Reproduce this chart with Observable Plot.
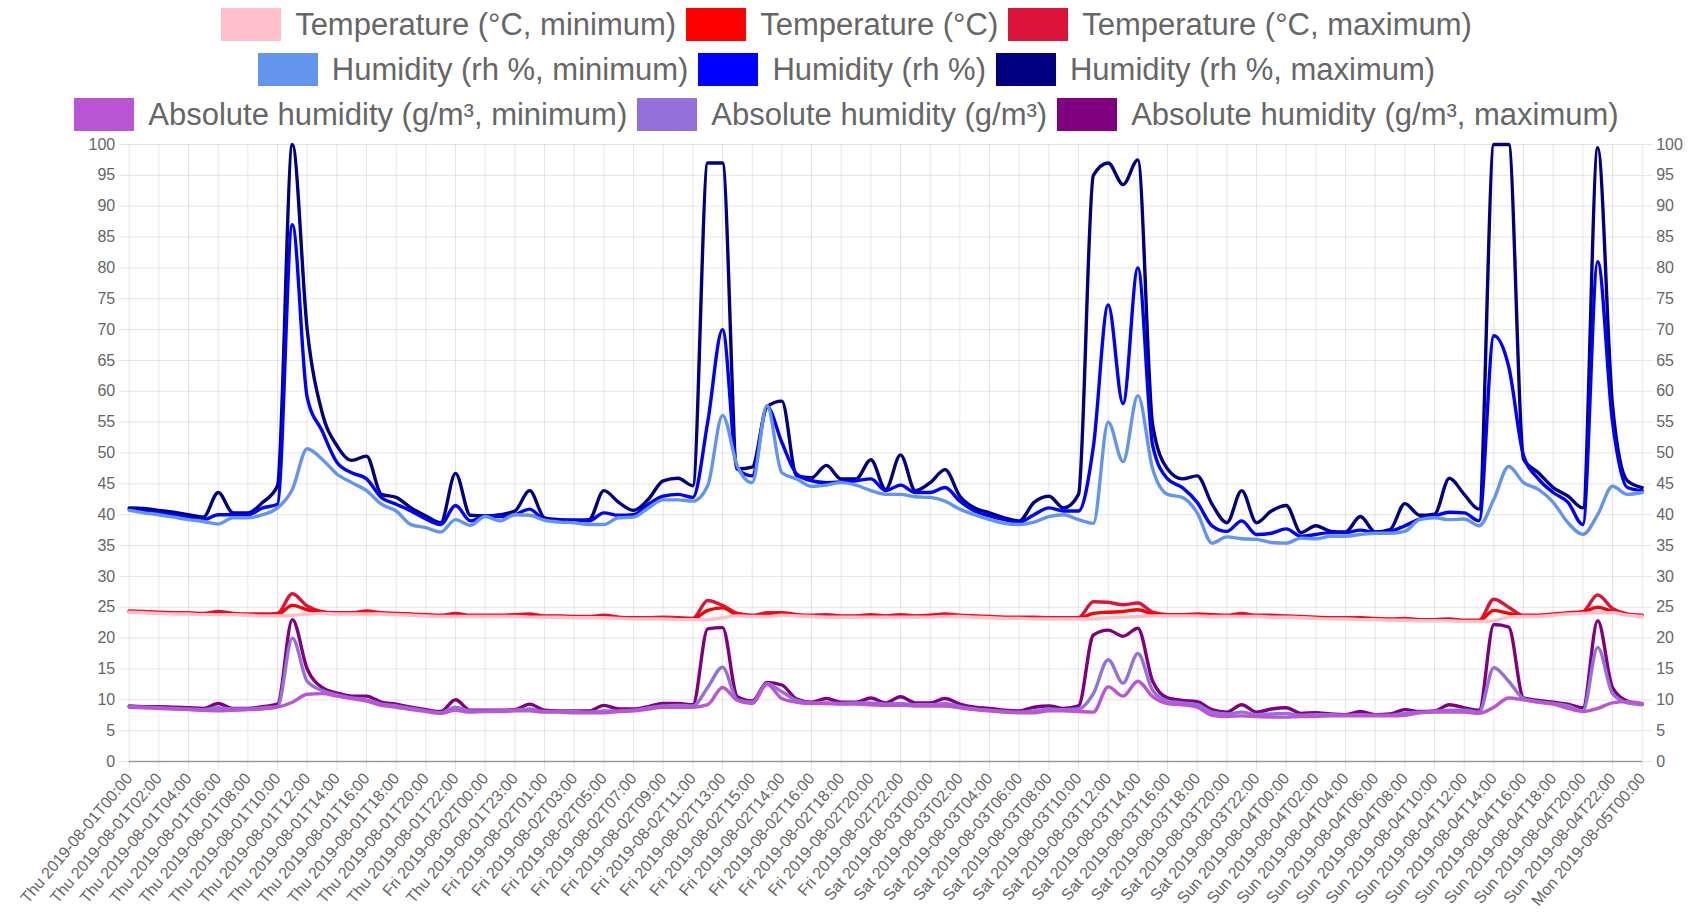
<!DOCTYPE html>
<html><head><meta charset="utf-8">
<script src="https://cdn.jsdelivr.net/npm/d3@7"></script>
<script src="https://cdn.jsdelivr.net/npm/@observablehq/plot@0.6"></script>
<style>
body{margin:0;background:#fff;font-family:"Liberation Sans",Arial,Helvetica,sans-serif;}
#legend{height:136px;padding-top:2px;box-sizing:border-box;}
.row{display:flex;justify-content:center;align-items:center;height:45px;}
.item{display:flex;align-items:center;margin:0 5px;}
.box{width:58px;height:31px;border:1.5px solid;margin-right:14px;box-sizing:content-box}
.lab{font-size:31px;color:#666;white-space:nowrap;line-height:34px}
#chart svg{display:block}
</style></head><body>
<div id="legend"></div><div id="chart"></div>
<script>
const seriesNames = [
  "Temperature (°C, minimum)", "Temperature (°C)", "Temperature (°C, maximum)",
  "Humidity (rh %, minimum)", "Humidity (rh %)", "Humidity (rh %, maximum)",
  "Absolute humidity (g/m³, minimum)", "Absolute humidity (g/m³)", "Absolute humidity (g/m³, maximum)"
];
const seriesColors = ["pink", "red", "crimson", "cornflowerblue", "blue", "navy", "mediumorchid", "mediumpurple", "purple"];

const tickLabels = [
  "Thu 2019-08-01T00:00","Thu 2019-08-01T02:00","Thu 2019-08-01T04:00","Thu 2019-08-01T06:00",
  "Thu 2019-08-01T08:00","Thu 2019-08-01T10:00","Thu 2019-08-01T12:00","Thu 2019-08-01T14:00",
  "Thu 2019-08-01T16:00","Thu 2019-08-01T18:00","Thu 2019-08-01T20:00","Thu 2019-08-01T22:00",
  "Fri 2019-08-02T00:00","Thu 2019-08-01T23:00","Fri 2019-08-02T01:00","Fri 2019-08-02T03:00",
  "Fri 2019-08-02T05:00","Fri 2019-08-02T07:00","Fri 2019-08-02T09:00","Fri 2019-08-02T11:00",
  "Fri 2019-08-02T13:00","Fri 2019-08-02T15:00","Fri 2019-08-02T14:00","Fri 2019-08-02T16:00",
  "Fri 2019-08-02T18:00","Fri 2019-08-02T20:00","Fri 2019-08-02T22:00",
  "Sat 2019-08-03T00:00","Sat 2019-08-03T02:00","Sat 2019-08-03T04:00","Sat 2019-08-03T06:00",
  "Sat 2019-08-03T08:00","Sat 2019-08-03T10:00","Sat 2019-08-03T12:00","Sat 2019-08-03T14:00",
  "Sat 2019-08-03T16:00","Sat 2019-08-03T18:00","Sat 2019-08-03T20:00","Sat 2019-08-03T22:00",
  "Sun 2019-08-04T00:00","Sun 2019-08-04T02:00","Sun 2019-08-04T04:00","Sun 2019-08-04T06:00",
  "Sun 2019-08-04T08:00","Sun 2019-08-04T10:00","Sun 2019-08-04T12:00","Sun 2019-08-04T14:00",
  "Sun 2019-08-04T16:00","Sun 2019-08-04T18:00","Sun 2019-08-04T20:00","Sun 2019-08-04T22:00",
  "Mon 2019-08-05T00:00"
];
const yTicks = [0,5,10,15,20,25,30,35,40,45,50,55,60,65,70,75,80,85,90,95,100];

// one reading every hour-slot (two slots per labelled tick)
const tempMin = [
  24.2,24.1,24.0,23.9,23.9,23.8,23.8,23.8,23.7,23.6,
  23.6,23.7,23.9,24.0,23.9,23.9,23.9,23.9,23.8,23.7,
  23.6,23.5,23.5,23.5,23.5,23.5,23.5,23.4,23.4,23.4,
  23.3,23.3,23.3,23.2,23.1,23.1,23.1,23.0,23.0,23.0,
  23.3,23.6,23.5,23.5,23.7,23.6,23.5,23.4,23.4,23.4,
  23.4,23.4,23.4,23.4,23.4,23.5,23.5,23.4,23.3,23.2,
  23.2,23.1,23.1,23.1,23.1,23.1,23.3,23.4,23.5,23.6,
  23.6,23.6,23.6,23.5,23.5,23.5,23.5,23.4,23.4,23.3,
  23.2,23.1,23.1,23.0,23.0,22.9,22.9,22.8,22.8,22.8,
  22.7,22.7,22.8,23.4,23.5,23.5,23.7,23.9,24.0,24.1,
  24.1,23.7,23.5];
const temp = [
  24.3,24.2,24.1,24.0,24.0,23.9,24.0,23.9,23.8,23.7,
  23.8,25.3,24.6,24.2,24.0,24.0,24.2,24.0,23.9,23.8,
  23.7,23.6,23.8,23.6,23.6,23.6,23.7,23.6,23.5,23.5,
  23.4,23.4,23.5,23.3,23.2,23.2,23.2,23.1,23.1,24.5,
  24.9,23.8,23.6,23.8,24.0,23.7,23.6,23.5,23.5,23.5,
  23.6,23.5,23.6,23.5,23.6,23.7,23.6,23.5,23.4,23.3,
  23.3,23.2,23.2,23.2,23.2,24.0,24.2,24.3,24.6,23.9,
  23.7,23.7,23.8,23.7,23.6,23.8,23.6,23.5,23.5,23.4,
  23.3,23.2,23.2,23.1,23.1,23.0,23.0,22.9,22.9,22.9,
  22.8,22.8,24.5,24.0,23.6,23.6,23.8,24.0,24.2,25.0,
  24.3,23.8,23.6];
const tempMax = [
  24.4,24.3,24.2,24.1,24.1,24.0,24.3,24.0,23.9,23.9,
  24.0,27.2,25.2,24.3,24.1,24.1,24.4,24.1,24.0,23.9,
  23.8,23.7,24.0,23.7,23.7,23.7,23.8,23.9,23.6,23.6,
  23.5,23.5,23.7,23.4,23.3,23.3,23.4,23.3,23.2,26.1,
  25.3,24.0,23.7,24.1,24.1,23.8,23.7,23.8,23.6,23.6,
  23.8,23.6,23.8,23.6,23.7,23.9,23.7,23.6,23.5,23.4,
  23.4,23.4,23.3,23.3,23.3,25.9,25.8,25.4,25.7,24.2,
  23.8,23.8,23.9,23.8,23.7,24.0,23.7,23.7,23.6,23.5,
  23.4,23.3,23.3,23.3,23.2,23.1,23.2,23.0,23.0,23.1,
  22.9,22.9,26.3,25.0,23.7,23.7,23.9,24.1,24.3,27.0,
  24.8,23.9,23.7];
const humMin = [
  40.7,40.3,40.0,39.6,39.2,38.9,38.5,39.5,39.5,40.0,
  41.1,44.1,50.7,49.0,46.6,45.2,43.9,41.7,40.6,38.4,
  37.9,37.2,39.2,38.3,39.7,39.0,40.0,39.9,39.1,38.8,
  38.7,38.4,38.4,39.5,39.6,41.1,42.4,42.4,42.2,44.7,
  56.1,47.9,45.2,57.7,46.8,45.8,44.6,44.8,45.2,44.8,
  43.9,43.3,43.3,42.9,42.8,42.2,40.9,40.0,39.2,38.6,
  38.4,38.8,39.7,40.0,39.2,38.6,55.0,48.6,59.3,47.4,
  43.3,42.8,40.3,35.4,36.4,36.1,36.0,35.5,35.4,36.2,
  36.1,36.5,36.5,36.8,37.0,37.0,37.3,39.2,39.5,39.2,
  39.3,38.2,42.5,47.8,45.2,44.1,42.0,38.7,36.8,40.0,
  44.6,43.3,43.6];
const hum = [
  40.9,40.6,40.3,40.0,39.5,39.2,40.0,40.0,40.0,41.1,
  41.7,87.0,59.0,53.6,48.5,46.8,45.8,42.8,41.7,40.6,
  39.3,38.4,41.5,39.0,39.8,39.7,40.0,40.9,39.2,39.1,
  39.1,39.0,40.3,39.9,40.0,41.7,43.0,43.3,42.8,55.0,
  70.0,47.4,46.3,57.5,51.7,46.6,45.5,45.2,45.3,45.5,
  45.8,43.9,44.8,43.6,43.6,44.4,42.2,40.6,39.8,39.2,
  38.8,40.0,41.1,40.6,40.6,51.0,74.0,58.0,80.0,51.2,
  45.8,44.4,42.0,38.2,37.3,39.0,36.8,37.0,37.7,36.5,
  36.8,37.1,37.1,37.5,37.1,37.3,38.2,39.3,39.8,40.4,
  40.3,39.0,69.0,64.0,49.6,45.8,43.6,42.0,38.4,81.0,
  55.0,44.4,43.9];
const humMax = [
  41.1,41.0,40.7,40.4,40.0,39.6,43.6,40.3,40.3,42.0,
  44.7,100,70.0,56.6,51.2,48.8,49.5,43.3,42.8,41.1,
  39.8,38.7,46.7,39.9,39.8,40.0,40.6,43.9,39.5,39.2,
  39.1,39.2,43.9,42.0,40.7,42.5,45.5,45.9,44.7,97.0,
  97.0,47.4,47.7,57.5,58.4,46.3,46.0,48.0,45.8,45.8,
  48.9,44.1,49.7,43.9,45.2,47.3,43.0,41.1,40.3,39.5,
  39.0,42.0,43.0,41.1,43.3,95.0,97.0,93.5,97.5,54.5,
  47.4,45.8,46.3,41.7,38.7,43.9,38.7,40.6,41.5,37.1,
  38.2,37.3,37.2,39.7,37.2,37.6,41.8,39.9,40.1,45.9,
  43.3,40.9,100,100,49.0,46.8,44.4,43.0,41.1,99.5,
  57.7,45.5,44.4];
const absMin = [
  8.8,8.7,8.6,8.5,8.4,8.3,8.2,8.3,8.4,8.5,
  8.8,9.6,10.9,11.0,10.6,10.2,9.8,9.1,8.8,8.4,
  8.1,7.8,8.3,8.0,8.1,8.1,8.2,8.2,8.0,8.0,
  7.9,7.9,7.9,8.1,8.2,8.5,8.8,8.8,8.8,9.2,
  12.0,9.9,9.4,12.5,10.2,9.6,9.4,9.4,9.3,9.3,
  9.2,9.1,9.1,9.0,9.0,9.0,8.7,8.4,8.2,8.0,
  7.9,7.9,8.2,8.2,8.1,8.0,12.1,10.6,13.0,10.5,
  9.4,9.2,8.8,7.5,7.3,7.4,7.3,7.2,7.2,7.3,
  7.3,7.4,7.4,7.4,7.4,7.4,7.5,7.9,8.0,8.0,
  8.0,7.8,8.8,10.3,10.0,9.6,9.3,8.6,8.1,8.6,
  9.5,9.7,9.4];
const absMid = [
  8.9,8.8,8.7,8.6,8.5,8.4,8.7,8.5,8.5,8.7,
  8.9,20.0,13.0,11.5,10.8,10.3,10.0,9.3,9.0,8.6,
  8.2,7.9,8.8,8.2,8.2,8.2,8.3,8.5,8.1,8.1,
  8.1,8.0,8.2,8.2,8.3,8.7,9.0,9.1,9.0,12.0,
  15.3,10.0,9.6,12.6,11.3,9.9,9.5,9.5,9.4,9.5,
  9.5,9.3,9.4,9.2,9.2,9.4,8.9,8.5,8.3,8.1,
  8.0,8.2,8.5,8.4,8.5,11.0,16.5,12.7,17.5,11.5,
  9.8,9.5,9.2,8.0,7.7,8.0,7.6,7.7,7.8,7.5,
  7.6,7.6,7.5,7.6,7.5,7.5,7.8,8.0,8.1,8.3,
  8.3,8.0,15.2,13.0,10.2,9.7,9.4,9.0,8.2,18.5,
  11.0,9.5,9.2];
const absMax = [
  9.0,8.9,8.9,8.8,8.7,8.6,9.4,8.6,8.6,8.9,
  9.3,23.0,15.0,12.0,11.1,10.6,10.6,9.6,9.3,8.8,
  8.4,8.1,10.0,8.3,8.3,8.3,8.4,9.3,8.3,8.2,
  8.2,8.2,9.1,8.5,8.5,8.9,9.4,9.4,9.2,21.5,
  21.7,10.5,9.8,12.8,12.4,10.1,9.6,10.2,9.6,9.6,
  10.3,9.5,10.5,9.5,9.5,10.2,9.3,8.8,8.6,8.3,
  8.2,8.8,9.0,8.6,9.0,20.5,21.3,20.3,21.6,13.0,
  10.3,9.9,9.7,8.4,8.0,9.2,8.0,8.5,8.7,7.8,
  7.9,7.7,7.6,8.1,7.6,7.7,8.4,8.1,8.2,9.2,
  8.7,8.3,22.2,21.8,10.3,9.9,9.6,9.3,8.7,22.8,
  12.0,9.8,9.3];

const seriesValues = [tempMin, temp, tempMax, humMin, hum, humMax, absMin, absMid, absMax];

// ---- legend (3 rows of 3) ----
const legend = document.getElementById("legend");
for (let r = 0; r < 3; r++) {
  const row = document.createElement("div");
  row.className = "row";
  for (let c = 0; c < 3; c++) {
    const s = r * 3 + c;
    const item = document.createElement("div");
    item.className = "item";
    const box = document.createElement("div");
    box.className = "box";
    box.style.background = seriesColors[s];
    box.style.borderColor = seriesColors[s];
    const lab = document.createElement("span");
    lab.className = "lab";
    lab.textContent = seriesNames[s];
    item.appendChild(box); item.appendChild(lab);
    row.appendChild(item);
  }
  legend.appendChild(row);
}

// ---- chart ----
const xTicks = tickLabels.map((_, k) => 2 * k);
const nPts = tempMin.length;
const lineMarks = [];
for (let s = seriesValues.length - 1; s >= 0; s--) {
  const data = seriesValues[s].map((v, i) => ({i, v}));
  lineMarks.push(Plot.line(data, {x: "i", y: "v", stroke: seriesColors[s], strokeWidth: 3.4, curve: "monotone-x"}));
}

const chart = Plot.plot({
  width: 1693,
  height: 778,
  marginTop: 8,
  marginBottom: 153,
  marginLeft: 128.7,
  marginRight: 51.3,
  style: {fontFamily: "Liberation Sans, Arial, sans-serif", background: "#fff"},
  x: {domain: [0, nPts - 1], axis: null},
  y: {domain: [0, 100], axis: null},
  marks: [
    Plot.gridX(xTicks, {stroke: "#000", strokeOpacity: 0.1}),
    Plot.gridY(yTicks, {stroke: "#000", strokeOpacity: 0.1}),
    Plot.axisY({anchor: "left", ticks: yTicks, tickSize: 10, tickPadding: 4, fontSize: 16, fill: "#666", stroke: "#000", strokeOpacity: 0.1, label: null}),
    Plot.axisY({anchor: "right", ticks: yTicks, tickSize: 10, tickPadding: 4, fontSize: 16, fill: "#666", stroke: "#000", strokeOpacity: 0.1, label: null}),
    Plot.axisX({ticks: xTicks, tickFormat: d => tickLabels[d / 2], tickRotate: -50, tickSize: 10, tickPadding: 4, fontSize: 16, fill: "#666", stroke: "#000", strokeOpacity: 0.1, label: null}),
    ...lineMarks,
    Plot.ruleY([0], {stroke: "#000", strokeOpacity: 0.35, strokeWidth: 1.5})
  ]
});
document.getElementById("chart").appendChild(chart);
</script>
</body></html>
